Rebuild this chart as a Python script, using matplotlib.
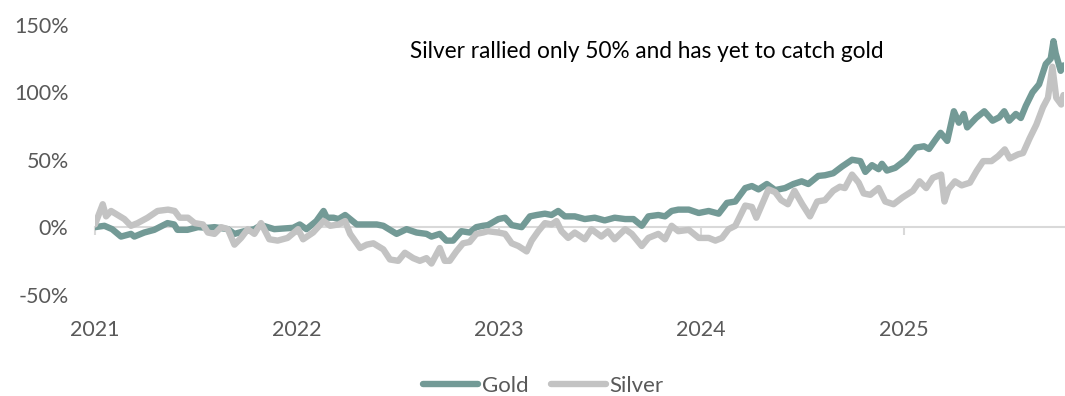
import matplotlib
matplotlib.use("Agg")
import matplotlib.pyplot as plt
import numpy as np
import pandas as pd

plt.rcParams['font.family'] = ['Lato', 'DejaVu Sans']

# Cumulative return since start of 2021, in percent
gold_dates = [
    "2021-01-01", "2021-01-18", "2021-02-01", "2021-02-17", "2021-03-07", "2021-03-13",
    "2021-03-31", "2021-04-18", "2021-05-12", "2021-05-24", "2021-05-30", "2021-06-17",
    "2021-07-06", "2021-07-24", "2021-08-05", "2021-08-29", "2021-09-10", "2021-09-28",
    "2021-10-16", "2021-10-28", "2021-11-21", "2021-12-07", "2021-12-25", "2022-01-06",
    "2022-01-18", "2022-02-05", "2022-02-18", "2022-02-24", "2022-03-08", "2022-03-17",
    "2022-03-29", "2022-04-07", "2022-04-19", "2022-05-07", "2022-05-25", "2022-06-06",
    "2022-06-18", "2022-06-30", "2022-07-18", "2022-08-05", "2022-08-23", "2022-09-01",
    "2022-09-16", "2022-09-28", "2022-10-10", "2022-10-25", "2022-11-09", "2022-11-21",
    "2022-12-03", "2022-12-12", "2022-12-31", "2023-01-12", "2023-01-24", "2023-02-11",
    "2023-02-26", "2023-03-10", "2023-03-25", "2023-04-06", "2023-04-18", "2023-04-30",
    "2023-05-18", "2023-06-05", "2023-06-23", "2023-07-11", "2023-07-29", "2023-08-17",
    "2023-09-01", "2023-09-16", "2023-09-28", "2023-10-16", "2023-10-28", "2023-11-09",
    "2023-11-21", "2023-12-10", "2023-12-28", "2024-01-15", "2024-02-02", "2024-02-17",
    "2024-03-03", "2024-03-21", "2024-04-02", "2024-04-14", "2024-04-29", "2024-05-14",
    "2024-06-01", "2024-06-16", "2024-07-01", "2024-07-13", "2024-07-31", "2024-08-12",
    "2024-08-27", "2024-09-12", "2024-09-30", "2024-10-15", "2024-10-24", "2024-11-05",
    "2024-11-17", "2024-11-23", "2024-12-02", "2024-12-17", "2025-01-05", "2025-01-23",
    "2025-02-07", "2025-02-16", "2025-02-28", "2025-03-09", "2025-03-21", "2025-04-02",
    "2025-04-11", "2025-04-20", "2025-04-26", "2025-05-12", "2025-05-27", "2025-06-11",
    "2025-06-23", "2025-07-02", "2025-07-11", "2025-07-23", "2025-08-01", "2025-08-10",
    "2025-08-22", "2025-09-03", "2025-09-15", "2025-09-24", "2025-09-29", "2025-10-03",
    "2025-10-12", "2025-10-17",
]
gold_values = [
    0, 1, -1.5, -7, -5, -7,
    -4, -2, 3, 2, -2, -2,
    0, -0.5, 0, -1.5, -5, -3,
    -1.5, 1.5, -1.5, -1, -0.5, 2,
    -1.5, 4.5, 12, 7, 7, 6,
    9, 6, 2, 2, 2, 1,
    -2, -5, -1.5, -4, -5, -7,
    -5, -10, -10, -3, -4, 0,
    1, 1.5, 6, 7, 1.5, 0,
    8, 9, 10, 9, 12, 8,
    8, 6, 7, 5, 7, 6,
    6, 1, 8, 9, 8, 12,
    13, 13, 10.5, 12, 10, 18,
    19, 29, 30.5, 28, 32, 27.5,
    29, 32, 34, 32, 38, 38.5,
    40, 45, 50, 49, 41, 46,
    43, 47, 42, 44, 50, 59,
    60, 58, 65, 70, 64, 86,
    77.5, 84, 74, 81, 86, 79,
    81.5, 86, 79, 84, 81, 90,
    100, 106, 121, 125, 138, 129,
    116, 120,
]

silver_dates = [
    "2021-01-01", "2021-01-15", "2021-01-21", "2021-01-30", "2021-02-11", "2021-02-23",
    "2021-03-07", "2021-03-19", "2021-04-06", "2021-04-24", "2021-05-13", "2021-05-25",
    "2021-06-03", "2021-06-18", "2021-06-30", "2021-07-15", "2021-07-24", "2021-08-05",
    "2021-08-17", "2021-08-29", "2021-09-10", "2021-09-22", "2021-10-04", "2021-10-16",
    "2021-10-28", "2021-11-12", "2021-11-27", "2021-12-15", "2022-01-03", "2022-01-12",
    "2022-01-30", "2022-02-18", "2022-03-02", "2022-03-17", "2022-03-29", "2022-04-07",
    "2022-04-25", "2022-05-07", "2022-05-19", "2022-06-06", "2022-06-18", "2022-07-03",
    "2022-07-15", "2022-07-30", "2022-08-11", "2022-08-23", "2022-09-01", "2022-09-16",
    "2022-09-25", "2022-10-04", "2022-10-16", "2022-10-28", "2022-11-09", "2022-11-21",
    "2022-12-03", "2022-12-12", "2022-12-31", "2023-01-12", "2023-01-24", "2023-02-05",
    "2023-02-20", "2023-03-01", "2023-03-13", "2023-03-25", "2023-04-06", "2023-04-15",
    "2023-04-24", "2023-05-06", "2023-05-18", "2023-06-05", "2023-06-17", "2023-07-05",
    "2023-07-17", "2023-07-29", "2023-08-17", "2023-08-29", "2023-09-16", "2023-09-28",
    "2023-10-16", "2023-10-28", "2023-11-09", "2023-11-21", "2023-12-10", "2023-12-28",
    "2024-01-15", "2024-01-27", "2024-02-08", "2024-02-20", "2024-03-03", "2024-03-21",
    "2024-04-02", "2024-04-10", "2024-05-02", "2024-05-14", "2024-05-25", "2024-06-06",
    "2024-06-18", "2024-07-02", "2024-07-16", "2024-07-29", "2024-08-12", "2024-08-27",
    "2024-09-08", "2024-09-17", "2024-09-30", "2024-10-12", "2024-10-21", "2024-11-02",
    "2024-11-17", "2024-11-29", "2024-12-14", "2024-12-30", "2025-01-18", "2025-01-30",
    "2025-02-11", "2025-02-23", "2025-03-10", "2025-03-16", "2025-03-23", "2025-04-04",
    "2025-04-16", "2025-05-01", "2025-05-13", "2025-05-25", "2025-06-09", "2025-06-21",
    "2025-07-03", "2025-07-12", "2025-07-27", "2025-08-05", "2025-08-17", "2025-08-29",
    "2025-09-10", "2025-09-19", "2025-09-27", "2025-10-04", "2025-10-13", "2025-10-17",
]
silver_values = [
    2, 17, 8, 12, 9, 6,
    1, 3, 7, 12, 13, 12,
    7, 7, 3, 2, -4, -5,
    0, -1.5, -13, -8, -1.5, -5,
    3, -9, -10, -8, -1.5, -9,
    -4, 4.5, 1, 2, 4.5, -5,
    -15.5, -13, -12, -16.5, -24, -25,
    -19, -23, -25, -23, -27, -15.5,
    -25, -25, -18, -12, -11, -5,
    -4, -3, -4, -5, -12, -14,
    -18, -10, -3, 3, 2, 4.5,
    -3, -8, -4, -9, -1.5, -7,
    -3, -9, -1.5, -5, -14, -8,
    -5, -9, 1, -3, -2, -8,
    -8, -10, -8, -1.5, 1, 16,
    15, 7, 28, 26, 20, 17,
    27, 17, 8, 19, 20, 27,
    30, 29, 39, 33, 25, 24,
    29, 19, 17, 22, 27, 34,
    29, 36.6, 39, 19, 28, 34,
    31, 33, 41.6, 49, 49, 52.7,
    57.7, 51, 54, 55, 66, 76,
    89, 96, 119, 96, 91, 98,
]

year_ticks = ["2021", "2022", "2023", "2024", "2025"]
y_ticks = [-50, 0, 50, 100, 150]
note = "Silver rallied only 50% and has yet to catch gold"

gold = pd.Series(gold_values, index=pd.to_datetime(gold_dates))
silver = pd.Series(silver_values, index=pd.to_datetime(silver_dates))

GOLD_C = "#739a96"
SILVER_C = "#c3c3c3"
AXIS_C = "#d9d9d9"
TEXT_C = "#595959"
LW = 4.6

fig = plt.figure(figsize=(10.65, 3.96), dpi=100)
ax = fig.add_axes([95 / 1065, 88 / 396, 969 / 1065, 283 / 396])

ax.plot(gold.index, gold.values, color=GOLD_C, lw=LW, solid_joinstyle="round",
        solid_capstyle="round", label="Gold", zorder=3)
ax.plot(silver.index, silver.values, color=SILVER_C, lw=LW, solid_joinstyle="round",
        solid_capstyle="round", label="Silver", zorder=4)

ax.set_xlim(pd.Timestamp("2021-01-01"), pd.Timestamp("2025-10-18"))
ax.set_ylim(-60, 150)

# Horizontal axis runs through zero, labels sit below the plot
for s in ["top", "right", "left"]:
    ax.spines[s].set_visible(False)
ax.spines["bottom"].set_position(("data", 0))
ax.spines["bottom"].set_color(AXIS_C)
ax.spines["bottom"].set_linewidth(1.5)
ax.spines["bottom"].set_zorder(1)
tick_pos = pd.to_datetime([y + "-01-01" for y in year_ticks])
ax.set_xticks(tick_pos)
ax.tick_params(axis="x", direction="out", length=6, width=1.5, color=AXIS_C,
               labelbottom=False)

sec = ax.secondary_xaxis("bottom")
sec.set_xticks(tick_pos)
sec.set_xticklabels(year_ticks)
sec.spines["bottom"].set_visible(False)
sec.tick_params(axis="x", length=0, pad=9, labelsize=15.5, labelcolor=TEXT_C)

ax.set_yticks(y_ticks)
ax.set_yticklabels([f"{v}%" for v in y_ticks])
ax.tick_params(axis="y", length=0, pad=19, labelsize=15.5, labelcolor=TEXT_C)

ax.text(0.325, 0.905, note, transform=ax.transAxes, fontsize=16.3, color="black",
        ha="left", va="center")

leg = fig.legend(loc="center", bbox_to_anchor=(0.51, 10 / 396), ncol=2, frameon=False,
                 fontsize=16, handlelength=2.5, handletextpad=0.15, columnspacing=1.0)
for t in leg.get_texts():
    t.set_color(TEXT_C)
for h in leg.get_lines():
    h.set_linewidth(LW)

fig.savefig("out.png", dpi=100)
